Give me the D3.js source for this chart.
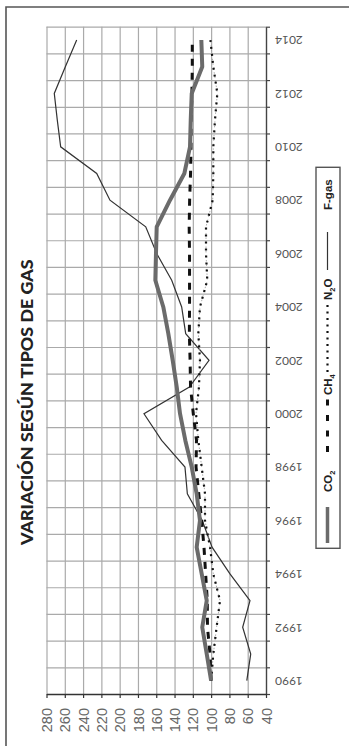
<!DOCTYPE html>
<html>
<head>
<meta charset="utf-8">
<script src="https://cdn.jsdelivr.net/npm/d3@7"></script>
<style>
  html, body { margin: 0; padding: 0; background: #fff; }
  svg { display: block; }
</style>
</head>
<body>
<svg id="chart" width="349" height="746"></svg>
<script>
const years = d3.range(1990, 2015);
const yearLabels = [1990, 1992, 1994, 1996, 1998, 2000, 2002, 2004, 2006, 2008, 2010, 2012, 2014];
const valueTicks = [280, 260, 240, 220, 200, 180, 160, 140, 120, 100, 80, 60, 40];

const co2  = [100, 104.8, 109.7, 104.8, 110.3, 115.8, 112.2, 115.8, 121.2, 128.2, 134, 137.6, 142, 146.8, 152.3, 161, 160.3, 159.5, 145, 129.3, 123.1, 122.3, 121.2, 109.7, 110.7];
const ch4  = [100, 101.2, 104, 104.2, 106, 107.8, 110.3, 113.5, 116.5, 116, 119.5, 122.5, 123, 123.8, 123.6, 123.6, 123.6, 124, 123.5, 122.5, 122, 122, 121, 120.6, 120.6];
const n2o  = [100, 97.6, 94, 90.3, 97.6, 101.2, 106.7, 106.7, 110.3, 114, 116.5, 113.3, 112.2, 114, 112.2, 104.2, 105.6, 105.6, 98.3, 97.6, 97.6, 95.8, 93.2, 97.6, 100.8];
const fgas = [61, 56.7, 65.5, 57.5, 79.4, 99, 109.7, 126, 128.6, 154.1, 173.4, 123.8, 102.3, 127.8, 132.2, 143.1, 159.5, 171.5, 210.6, 225.1, 264.5, 268.2, 271.5, 259.4, 247];

const title = "VARIACIÓN SEGÚN TIPOS DE GAS";

const svg = d3.select("#chart");

// outer frame
svg.append("path")
  .attr("d", "M6,760 L6,7 L360,7")
  .attr("fill", "none").attr("stroke", "#555").attr("stroke-width", 1.6);

const L = 46.5, R = 266, T = 26.7, B = 694;
const x = d3.scaleLinear().domain([280, 40]).range([L, R]);
const y = d3.scaleLinear().domain([1989.5, 2014.5]).range([B, T]);
const bounds = d3.range(1989.5, 2015, 1);

// vertical gridlines
svg.append("g").attr("transform", `translate(0,${B})`)
  .call(d3.axisBottom(x).tickValues(d3.range(60, 281, 20)).tickSize(-(B - T)).tickFormat(""))
  .call(g => g.select(".domain").remove())
  .call(g => g.selectAll("line").attr("stroke", "#aaa").attr("stroke-width", 1.2));

// horizontal gridlines
svg.append("g").attr("transform", `translate(${R},0)`)
  .call(d3.axisLeft(y).tickValues(bounds).tickSize(R - L).tickFormat(""))
  .call(g => g.select(".domain").remove())
  .call(g => g.selectAll("line").attr("stroke", "#aaa").attr("stroke-width", 1.2));

// right (year) axis: ticks at band boundaries
svg.append("g").attr("transform", `translate(${R},0)`)
  .call(d3.axisRight(y).tickValues(bounds).tickSize(4).tickSizeOuter(0).tickFormat(""))
  .call(g => g.select(".domain").attr("stroke", "#444").attr("stroke-width", 1.4))
  .call(g => g.selectAll("line").attr("stroke", "#444").attr("stroke-width", 1.2));

// year labels, upside down
svg.append("g").attr("transform", `translate(${R},0)`)
  .call(d3.axisRight(y).tickValues(yearLabels).tickSize(0).tickFormat(d3.format("d")))
  .call(g => g.select(".domain").remove())
  .call(g => g.selectAll("text")
    .attr("transform", "rotate(180)")
    .attr("x", -9).attr("y", 0).attr("dy", "0.35em")
    .attr("text-anchor", "end")
    .attr("fill", "#555")
    .attr("font-family", "Lato, 'Liberation Sans', sans-serif")
    .attr("font-size", 12));

// bottom (value) axis
svg.append("g").attr("transform", `translate(0,${B})`)
  .call(d3.axisBottom(x).tickValues(valueTicks).tickSize(4).tickSizeOuter(0).tickFormat(d3.format("d")))
  .call(g => g.select(".domain").attr("stroke", "#333").attr("stroke-width", 1.6))
  .call(g => g.selectAll("line").attr("stroke", "#333").attr("stroke-width", 1.2))
  .call(g => g.selectAll("text")
    .attr("transform", "rotate(-90)")
    .attr("x", -14).attr("y", 0).attr("dy", "0.35em")
    .attr("text-anchor", "end")
    .attr("fill", "#666")
    .attr("font-family", "'Liberation Sans', Arial, sans-serif")
    .attr("font-size", 14.5));

// series
const line = d3.line().x(d => x(d.v)).y(d => y(d.yr));
const mk = arr => arr.map((v, i) => ({ yr: years[i], v }));

svg.append("path").datum(mk(fgas)).attr("d", line)
  .attr("fill", "none").attr("stroke", "#333").attr("stroke-width", 1.2);
svg.append("path").datum(mk(n2o)).attr("d", line)
  .attr("fill", "none").attr("stroke", "#999").attr("stroke-width", 0.8).attr("stroke-dasharray", "1.5,3");
svg.append("path").datum(mk(n2o)).attr("d", line)
  .attr("fill", "none").attr("stroke", "#111").attr("stroke-width", 2.2).attr("stroke-dasharray", "2,5");
svg.append("path").datum(mk(ch4)).attr("d", line)
  .attr("fill", "none").attr("stroke", "#111").attr("stroke-width", 3).attr("stroke-dasharray", "7,7");
svg.append("path").datum(mk(co2)).attr("d", line)
  .attr("fill", "none").attr("stroke", "#6b6b6b").attr("stroke-width", 4).attr("stroke-linejoin", "round");

// title
const tt = svg.append("text")
  .attr("transform", "translate(32.5,545) rotate(-90)")
  .attr("font-family", "Lato, 'Open Sans', sans-serif")
  .attr("font-weight", 900).attr("font-size", 17).attr("fill", "#222")
  .text(title);
const tl = tt.node().getComputedTextLength();
tt.attr("font-size", 17 * 286 / tl);

// legend
const lg = svg.append("g");
lg.append("rect").attr("x", 316).attr("y", 167.3).attr("width", 24).attr("height", 381)
  .attr("fill", "none").attr("stroke", "#555").attr("stroke-width", 1.4);
const lx = 327.5;
lg.append("line").attr("x1", lx).attr("x2", lx).attr("y1", 543).attr("y2", 507)
  .attr("stroke", "#6b6b6b").attr("stroke-width", 3.5);
lg.append("line").attr("x1", lx).attr("x2", lx).attr("y1", 452).attr("y2", 399)
  .attr("stroke", "#111").attr("stroke-width", 3).attr("stroke-dasharray", "6,9.5");
lg.append("line").attr("x1", lx).attr("x2", lx).attr("y1", 372).attr("y2", 304)
  .attr("stroke", "#111").attr("stroke-width", 2.2).attr("stroke-dasharray", "2,4.5");
lg.append("line").attr("x1", lx).attr("x2", lx).attr("y1", 270).attr("y2", 232)
  .attr("stroke", "#333").attr("stroke-width", 1.2);

function legendText(yStart, parts) {
  const t = lg.append("text")
    .attr("transform", `translate(332,${yStart}) rotate(-90)`)
    .attr("font-family", "'Liberation Sans', Arial, sans-serif")
    .attr("font-weight", 700).attr("font-size", 11.5).attr("fill", "#222");
  parts.forEach(p => {
    const s = t.append("tspan").text(p[0]);
    if (p[1]) s.attr("font-size", 7.5).attr("dy", 2.5);
    else s.attr("dy", p[2] || 0);
  });
}
legendText(492, [["CO"], ["2", true]]);
legendText(395, [["CH"], ["4", true]]);
legendText(300, [["N"], ["2", true], ["O", false, -2.5]]);
legendText(210, [["F-gas"]]);
</script>
</body>
</html>
